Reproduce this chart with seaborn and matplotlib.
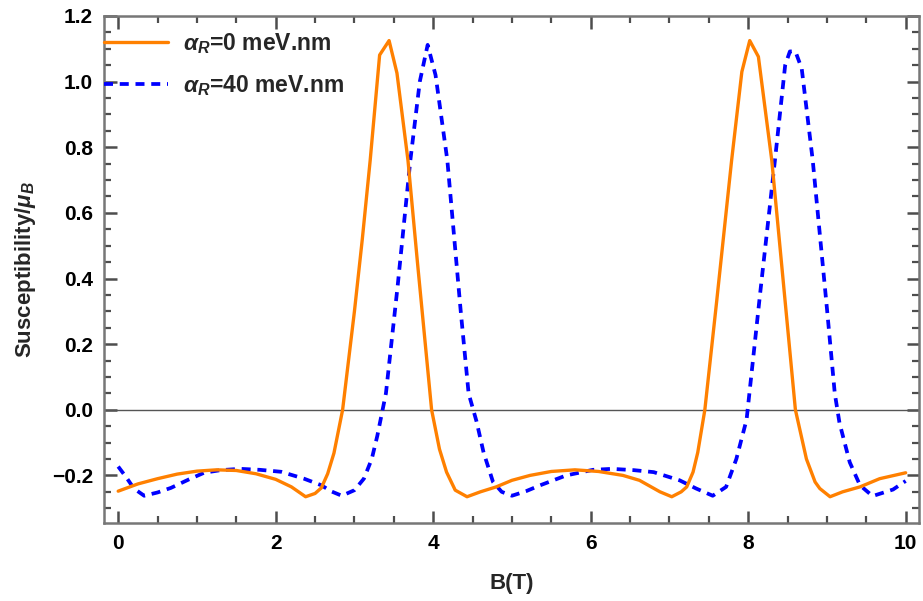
import numpy as np
import pandas as pd
import matplotlib
matplotlib.use("Agg")
import matplotlib.pyplot as plt
import seaborn as sns
from matplotlib.ticker import MultipleLocator

# Valores: alpha_R = 0 meV.nm (linha cheia)
b_alpha0 = [0.00, 0.25, 0.50, 0.75, 1.00, 1.25, 1.50, 1.75, 2.00, 2.20,
            2.38, 2.50, 2.58, 2.66, 2.74, 2.85, 3.00, 3.10, 3.20, 3.32,
            3.44, 3.54, 3.68, 3.80, 3.90, 3.98, 4.08, 4.17, 4.28, 4.43,
            4.60, 4.80, 5.00, 5.23, 5.50, 5.80, 6.10, 6.41, 6.62, 6.88,
            7.03, 7.15, 7.22, 7.30, 7.36, 7.45, 7.60, 7.79, 7.92, 8.02,
            8.13, 8.30, 8.45, 8.60, 8.74, 8.85, 8.91, 9.04, 9.20, 9.42,
            9.67, 10.00]
chi_alpha0 = [-0.248, -0.226, -0.210, -0.196, -0.187, -0.183, -0.185, -0.195, -0.212, -0.235,
              -0.265, -0.255, -0.238, -0.195, -0.132, 0.000, 0.300, 0.520, 0.760, 1.081,
              1.125, 1.026, 0.760, 0.450, 0.200, 0.000, -0.120, -0.190, -0.245, -0.265,
              -0.250, -0.235, -0.215, -0.200, -0.188, -0.183, -0.188, -0.200, -0.215, -0.250,
              -0.265, -0.250, -0.235, -0.190, -0.130, 0.000, 0.330, 0.760, 1.030, 1.125,
              1.076, 0.760, 0.380, 0.000, -0.150, -0.220, -0.240, -0.265, -0.250, -0.235,
              -0.210, -0.192]

# alpha_R = 40 meV.nm (tracejada)
b_alpha40 = [0.00, 0.10, 0.20, 0.33, 0.50, 0.67, 0.90, 1.09, 1.30, 1.55,
             1.80, 2.07, 2.36, 2.58, 2.70, 2.84, 3.00, 3.12, 3.22, 3.29,
             3.40, 3.55, 3.71, 3.83, 3.93, 4.03, 4.18, 4.35, 4.45, 4.55,
             4.64, 4.76, 4.87, 5.00, 5.18, 5.36, 5.69, 6.03, 6.27, 6.55,
             6.80, 7.13, 7.34, 7.55, 7.72, 7.85, 7.98, 8.15, 8.34, 8.47,
             8.53, 8.60, 8.68, 8.82, 9.00, 9.10, 9.16, 9.29, 9.42, 9.58,
             9.84, 10.00]
chi_alpha40 = [-0.173, -0.205, -0.240, -0.262, -0.252, -0.238, -0.212, -0.192, -0.184, -0.180,
               -0.183, -0.189, -0.210, -0.230, -0.248, -0.262, -0.245, -0.210, -0.150, -0.080,
               0.050, 0.380, 0.760, 1.000, 1.112, 1.020, 0.760, 0.300, 0.050, -0.035,
               -0.130, -0.220, -0.250, -0.262, -0.248, -0.230, -0.200, -0.183, -0.180, -0.184,
               -0.190, -0.215, -0.240, -0.262, -0.235, -0.150, -0.030, 0.350, 0.760, 1.050,
               1.092, 1.092, 1.040, 0.760, 0.310, 0.050, -0.040, -0.160, -0.230, -0.263,
               -0.243, -0.217]

labels = [r"$\alpha_R$=0 meV.nm", r"$\alpha_R$=40 meV.nm"]

df0 = pd.DataFrame({"B": b_alpha0, "chi": chi_alpha0})
df40 = pd.DataFrame({"B": b_alpha40, "chi": chi_alpha40})

sns.set_style("ticks")
plt.rcParams.update({
    "font.family": ["Liberation Sans", "DejaVu Sans"],
    "font.weight": "bold",
    "mathtext.fontset": "custom",
    "mathtext.rm": "Liberation Sans:bold",
    "mathtext.it": "Liberation Sans:italic:bold",
    "mathtext.bf": "Liberation Sans:bold",
})

fig = plt.figure(figsize=(9.23, 6.01), dpi=100)
ax = fig.add_axes([0.1127, 0.1298, 0.883, 0.8436])

ax.axhline(0, color="#555555", lw=1.0, zorder=1)
sns.lineplot(data=df0, x="B", y="chi", ax=ax, color="#FF8000", lw=2.4,
             label=labels[0], sort=False, zorder=3)
sns.lineplot(data=df40, x="B", y="chi", ax=ax, color="#0000FF", lw=2.7,
             label=labels[1], sort=False, zorder=2)
ax.lines[-1].set_linestyle((0, (2.4, 1.8)))

ax.set_xlim(-0.18, 10.17)
ax.set_ylim(-0.345, 1.2)
ax.set_xticks([0, 2, 4, 6, 8, 10])
ax.set_xticklabels(["0", "2", "4", "6", "8", "10"])
ax.set_yticks([-0.2, 0.0, 0.2, 0.4, 0.6, 0.8, 1.0, 1.2])
ax.set_yticklabels(["\u22120.2", "0.0", "0.2", "0.4", "0.6", "0.8", "1.0", "1.2"])
ax.xaxis.set_minor_locator(MultipleLocator(0.5))
ax.yaxis.set_minor_locator(MultipleLocator(0.05))

# marcas Mathematica: para dentro, nos quatro lados
ax.tick_params(which="both", direction="in", top=True, right=True,
               bottom=True, left=True, colors="#4d4d4d", labelcolor="black",
               labelsize=15, pad=8)
ax.tick_params(which="major", length=9, width=1.8)
ax.tick_params(which="minor", length=5, width=1.6)

for side in ax.spines.values():
    side.set_color("#777777")
    side.set_linewidth(1.8)

ax.set_xlabel("B(T)", fontsize=16, fontweight="bold", labelpad=14)
ax.set_ylabel(r"Susceptibility/$\mu_B$", fontsize=16, fontweight="bold", labelpad=10)

leg = ax.legend(loc="upper left", frameon=False, fontsize=16.5,
                handlelength=2.8, borderaxespad=0.0, borderpad=0.0,
                bbox_to_anchor=(0.0, 0.97), labelspacing=0.75, handletextpad=0.65)
leg.get_lines()[1].set_linestyle((0, (2.4, 1.8)))

fig.savefig("out.png", dpi=100)
